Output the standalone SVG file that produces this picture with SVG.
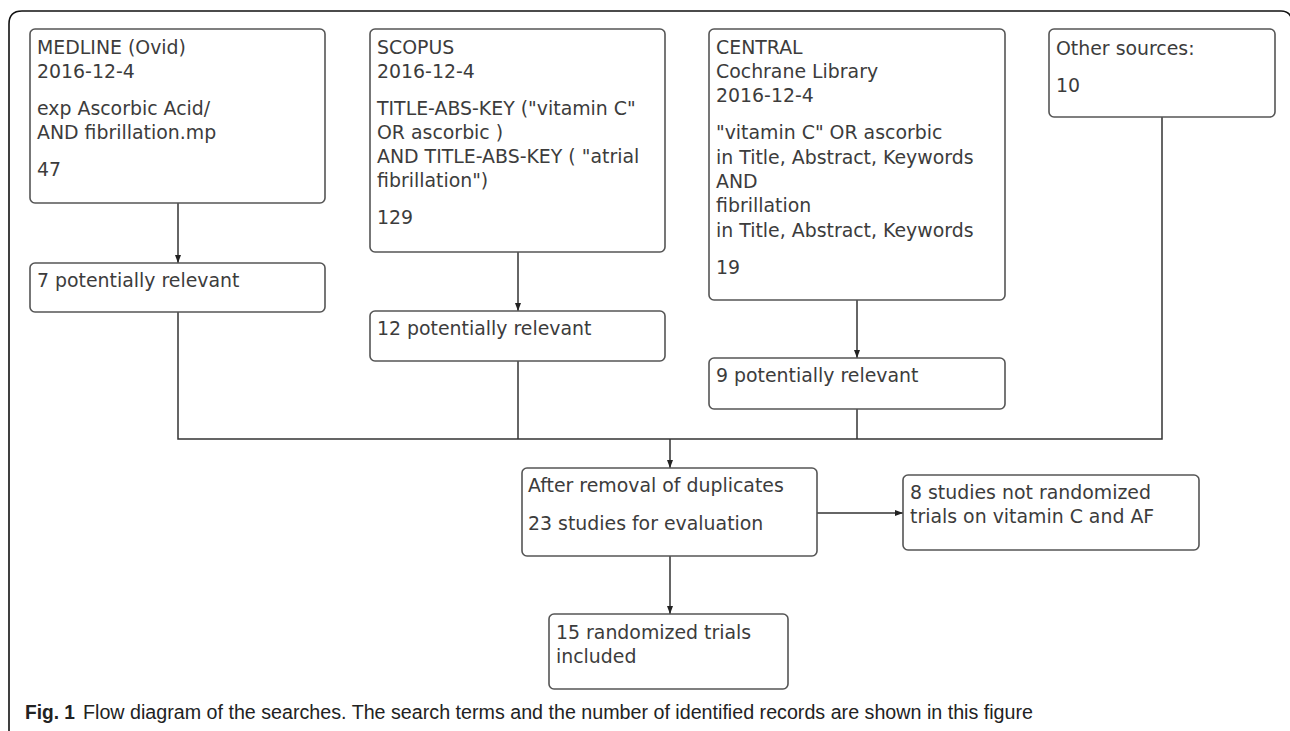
<svg xmlns="http://www.w3.org/2000/svg" width="1290" height="731" viewBox="0 0 1290 731">
<style>
.box{fill:#fff;stroke:#555;stroke-width:1.6}
.t{font-family:"DejaVu Sans",sans-serif;font-size:18.9px;fill:#3c3c3c}
.c{stroke:#333;stroke-width:1.5;fill:none}
.cap{font-family:"Liberation Sans",Arial,sans-serif;font-size:20px;fill:#222}
</style>
<defs>
<marker id="ah" viewBox="0 0 8 8" refX="8" refY="4" markerWidth="8" markerHeight="8" markerUnits="userSpaceOnUse" orient="auto">
<path d="M0,1 L8,4 L0,7 z" fill="#222"/>
</marker>
</defs>
<rect width="1290" height="731" fill="#fff"/>
<path d="M9,731 V24 Q9,11 22,11 H1281 Q1290,11 1292,20" fill="none" stroke="#111" stroke-width="1.6"/>
<g id="connectors">
<line class="c" x1="178" y1="203" x2="178" y2="263" marker-end="url(#ah)"/>
<line class="c" x1="518" y1="252" x2="518" y2="311" marker-end="url(#ah)"/>
<line class="c" x1="857" y1="300" x2="857" y2="358" marker-end="url(#ah)"/>
<polyline class="c" points="178,312 178,439 1162,439 1162,117"/>
<line class="c" x1="518" y1="361" x2="518" y2="439"/>
<line class="c" x1="857" y1="409" x2="857" y2="439"/>
<line class="c" x1="670" y1="439" x2="670" y2="468" marker-end="url(#ah)"/>
<line class="c" x1="817" y1="513" x2="903" y2="513" marker-end="url(#ah)"/>
<line class="c" x1="670" y1="556" x2="670" y2="614" marker-end="url(#ah)"/>
</g>
<g id="medline">
<rect class="box" x="30" y="29" width="295" height="174" rx="5"/>
<text class="t" x="37" y="54">MEDLINE (Ovid)</text>
<text class="t" x="37" y="78">2016-12-4</text>
<text class="t" x="37" y="115">exp Ascorbic Acid/</text>
<text class="t" x="37" y="139">AND fibrillation.mp</text>
<text class="t" x="37" y="176">47</text>
</g>
<g id="medline-relevant">
<rect class="box" x="30" y="263" width="295" height="49" rx="5"/>
<text class="t" x="37" y="287">7 potentially relevant</text>
</g>
<g id="scopus">
<rect class="box" x="370" y="29" width="295" height="223" rx="5"/>
<text class="t" x="377" y="54">SCOPUS</text>
<text class="t" x="377" y="78">2016-12-4</text>
<text class="t" x="377" y="115">TITLE-ABS-KEY ("vitamin C"</text>
<text class="t" x="377" y="139">OR ascorbic )</text>
<text class="t" x="377" y="163">AND TITLE-ABS-KEY ( "atrial</text>
<text class="t" x="377" y="187">fibrillation")</text>
<text class="t" x="377" y="224">129</text>
</g>
<g id="scopus-relevant">
<rect class="box" x="370" y="311" width="295" height="50" rx="5"/>
<text class="t" x="377" y="335">12 potentially relevant</text>
</g>
<g id="central">
<rect class="box" x="709" y="29" width="296" height="271" rx="5"/>
<text class="t" x="716" y="54">CENTRAL</text>
<text class="t" x="716" y="78">Cochrane Library</text>
<text class="t" x="716" y="102">2016-12-4</text>
<text class="t" x="716" y="139">"vitamin C" OR ascorbic</text>
<text class="t" x="716" y="163.5">in Title, Abstract, Keywords</text>
<text class="t" x="716" y="188">AND</text>
<text class="t" x="716" y="212">fibrillation</text>
<text class="t" x="716" y="236.5">in Title, Abstract, Keywords</text>
<text class="t" x="716" y="274">19</text>
</g>
<g id="central-relevant">
<rect class="box" x="709" y="358" width="296" height="51" rx="5"/>
<text class="t" x="716" y="382">9 potentially relevant</text>
</g>
<g id="other">
<rect class="box" x="1049" y="29" width="226" height="88" rx="5"/>
<text class="t" x="1056" y="55">Other sources:</text>
<text class="t" x="1056" y="92">10</text>
</g>
<g id="dedup">
<rect class="box" x="522" y="468" width="295" height="88" rx="5"/>
<text class="t" x="528" y="492">After removal of duplicates</text>
<text class="t" x="528" y="530">23 studies for evaluation</text>
</g>
<g id="excluded">
<rect class="box" x="903" y="475" width="296" height="75" rx="5"/>
<text class="t" x="910" y="499">8 studies not randomized</text>
<text class="t" x="910" y="523">trials on vitamin C and AF</text>
</g>
<g id="included">
<rect class="box" x="549" y="614" width="239" height="75" rx="5"/>
<text class="t" x="556" y="639">15 randomized trials</text>
<text class="t" x="556" y="663">included</text>
</g>
<g id="caption">
<text class="cap" x="25" y="719" font-weight="bold" textLength="50" lengthAdjust="spacingAndGlyphs">Fig. 1</text>
<text class="cap" x="83" y="719" textLength="950" lengthAdjust="spacingAndGlyphs">Flow diagram of the searches. The search terms and the number of identified records are shown in this figure</text>
</g>
</svg>
